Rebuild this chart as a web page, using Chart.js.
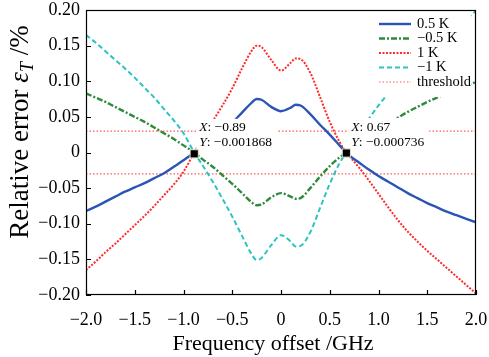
<!DOCTYPE html>
<html>
<head>
<meta charset="utf-8">
<script src="https://cdn.jsdelivr.net/npm/chart.js@4.4.0/dist/chart.umd.min.js"></script>
<style>
  html, body { margin: 0; padding: 0; background: #fff; }
  #wrap { width: 489px; height: 357px; }
</style>
</head>
<body>
<div id="wrap"><canvas id="chart" width="489" height="357"></canvas></div>
<script>
// frequency offset (GHz) and relative error (%) for each temperature error
const freq = [-2.0, -1.9, -1.8, -1.7, -1.6, -1.5, -1.4, -1.3, -1.2, -1.1, -1.0, -0.89,
  -0.8, -0.7, -0.6, -0.5, -0.4, -0.3, -0.25, -0.2, -0.1, 0, 0.1, 0.15, 0.2, 0.3, 0.4, 0.5, 0.6, 0.67,
  0.7, 0.8, 0.9, 1.0, 1.1, 1.2, 1.3, 1.4, 1.5, 1.6, 1.7, 1.8, 1.9, 2.0];
const errP05 = [-0.082, -0.076, -0.069, -0.062, -0.055, -0.049, -0.043, -0.036, -0.029, -0.020, -0.011, 0,
  0.010, 0.020, 0.031, 0.042, 0.056, 0.070, 0.075, 0.074, 0.064, 0.058, 0.063, 0.067, 0.066, 0.054, 0.039, 0.025, 0.010, 0,
  -0.004, -0.014, -0.024, -0.033, -0.041, -0.049, -0.057, -0.064, -0.071, -0.077, -0.083, -0.088, -0.093, -0.098];
const errM05 = [0.083, 0.077, 0.071, 0.064, 0.057, 0.050, 0.043, 0.035, 0.027, 0.019, 0.010, 0,
  -0.010, -0.020, -0.032, -0.044, -0.057, -0.070, -0.074, -0.073, -0.063, -0.057, -0.062, -0.065, -0.064, -0.050, -0.034, -0.019, -0.007, 0,
  0.004, 0.014, 0.024, 0.032, 0.041, 0.049, 0.057, 0.064, 0.071, 0.077, 0.083, 0.089, 0.094, 0.099];
const errP1 = [-0.165, -0.153, -0.140, -0.128, -0.115, -0.102, -0.089, -0.075, -0.060, -0.045, -0.027, 0,
  0.021, 0.044, 0.066, 0.090, 0.118, 0.143, 0.150, 0.148, 0.130, 0.115, 0.126, 0.132, 0.131, 0.112, 0.078, 0.043, 0.015, 0,
  -0.005, -0.021, -0.039, -0.058, -0.077, -0.095, -0.111, -0.125, -0.138, -0.150, -0.162, -0.174, -0.186, -0.198];
const errM1 = [0.165, 0.154, 0.142, 0.130, 0.118, 0.105, 0.091, 0.077, 0.061, 0.045, 0.027, 0,
  -0.019, -0.041, -0.065, -0.090, -0.117, -0.143, -0.151, -0.148, -0.130, -0.116, -0.125, -0.132, -0.131, -0.112, -0.078, -0.044, -0.015, 0,
  0.006, 0.026, 0.047, 0.066, 0.083, 0.099, 0.114, 0.128, 0.141, 0.153, 0.165, 0.176, 0.187, 0.199];
const threshold = 0.03;

// data tips
const tipX = [-0.89, 0.67];
const tipY = [-0.001868, -0.000736];
const tipXText = ['\u22120.89', '0.67'];
const tipYText = ['\u22120.001868', '\u22120.000736'];

const xTickLabels = ['\u22122.0', '\u22121.5', '\u22121.0', '\u22120.5', '0', '0.5', '1.0', '1.5', '2.0'];
const yTickLabels = ['\u22120.20', '\u22120.15', '\u22120.10', '\u22120.05', '0', '0.05', '0.10', '0.15', '0.20'];

const SERIF = '"Liberation Serif", "Times New Roman", serif';

function pts(ys) {
  return freq.map((x, i) => ({ x: x, y: ys[i] }));
}

const framePlugin = {
  id: 'frame',
  beforeDatasetDraw(chart, args) {
    // markers are dataset 0 and drawn last: put tips and legend under them
    if (args.index !== 0) return;
    drawTips(chart);
    drawLegend(chart);
  },
  afterDraw(chart) {
    const ctx = chart.ctx;
    const ca = chart.chartArea;
    const xs = chart.scales.x, ys = chart.scales.y;
    ctx.save();
    ctx.strokeStyle = '#000';
    ctx.lineWidth = 1.2;
    ctx.strokeRect(ca.left + 0.5, ca.top + 0.5, ca.right - ca.left - 1, ca.bottom - ca.top - 1);
    ctx.beginPath();
    xs.ticks.forEach(t => {
      const px = Math.round(xs.getPixelForValue(t.value)) + 0.5;
      ctx.moveTo(px, ca.bottom);
      ctx.lineTo(px, ca.bottom - 5);
    });
    ys.ticks.forEach(t => {
      const py = Math.round(ys.getPixelForValue(t.value)) + 0.5;
      ctx.moveTo(ca.left, py);
      ctx.lineTo(ca.left + 5, py);
    });
    ctx.stroke();

    // axis titles
    ctx.fillStyle = '#000';
    ctx.textBaseline = 'middle';
    ctx.textAlign = 'center';
    ctx.font = '22px ' + SERIF;
    ctx.fillText('Frequency offset /GHz', (ca.left + ca.right) / 2 - 8, 344);

    ctx.translate(21, 132);
    ctx.rotate(-Math.PI / 2);
    ctx.textAlign = 'left';
    const parts = [
      ['Relative error ', '27px ' + SERIF, 0],
      ['\u03b5', 'italic 27px ' + SERIF, 0],
      ['T', 'italic 18px ' + SERIF, 7],
      [' /%', '27px ' + SERIF, 0]
    ];
    let total = 0;
    parts.forEach(p => { ctx.font = p[1]; total += ctx.measureText(p[0]).width; });
    let cx = -total / 2;
    parts.forEach(p => {
      ctx.font = p[1];
      ctx.fillText(p[0], cx, p[2]);
      cx += ctx.measureText(p[0]).width;
    });
    ctx.restore();
  }
};

function drawTips(chart) {
  const ctx = chart.ctx;
  const xs = chart.scales.x, ys = chart.scales.y;
  ctx.save();
  ctx.textBaseline = 'middle';
  ctx.textAlign = 'left';
  tipX.forEach((vx, i) => {
    const px = xs.getPixelForValue(vx);
    const py = ys.getPixelForValue(tipY[i]);
    const left = px + 2;
    const top = py - 35;
    ctx.font = 'italic 13.5px ' + SERIF;
    const wx = ctx.measureText('Y').width;
    ctx.font = '13.5px ' + SERIF;
    const w = wx + ctx.measureText(': ' + tipYText[i]).width + 8;
    ctx.fillStyle = '#fff';
    ctx.fillRect(left, top, w, 32);
    ctx.fillStyle = '#000';
    [['X', tipXText[i], top + 9], ['Y', tipYText[i], top + 24]].forEach(r => {
      ctx.font = 'italic 13.5px ' + SERIF;
      ctx.fillText(r[0], left + 3, r[2]);
      const a = ctx.measureText(r[0]).width;
      ctx.font = '13.5px ' + SERIF;
      ctx.fillText(': ' + r[1], left + 3 + a, r[2]);
    });
  });
  ctx.restore();
}

function drawLegend(chart) {
  const ctx = chart.ctx;
  const ca = chart.chartArea;
  const items = chart.data.datasets.filter(d => d.label && !d.noLegend);
  const left = ca.right - 104, top = ca.top + 4;
  ctx.save();
  ctx.fillStyle = '#fff';
  ctx.fillRect(left, top, 99, 83);
  ctx.font = '14.5px ' + SERIF;
  ctx.textBaseline = 'middle';
  ctx.textAlign = 'left';
  items.forEach((d, i) => {
    const y = top + 10 + i * 14.5;
    ctx.strokeStyle = d.borderColor;
    ctx.lineWidth = d.borderWidth;
    ctx.setLineDash(d.borderDash || []);
    ctx.beginPath();
    ctx.moveTo(left + 7, y);
    ctx.lineTo(left + 39, y);
    ctx.stroke();
    ctx.setLineDash([]);
    ctx.fillStyle = '#000';
    ctx.fillText(d.label, left + 45, y);
  });
  ctx.restore();
}

const lineBase = { pointRadius: 0, fill: false, cubicInterpolationMode: 'monotone' };

new Chart(document.getElementById('chart'), {
  type: 'line',
  data: {
    datasets: [
      {
        label: '', noLegend: true, type: 'scatter',
        data: tipX.map((x, i) => ({ x: x, y: tipY[i] })),
        pointStyle: 'rect', pointRadius: 5.8, backgroundColor: '#000',
        borderColor: '#e9dfc4', borderWidth: 1, showLine: false
      },
      Object.assign({ label: '0.5 K', data: pts(errP05), borderColor: '#2b55b4', borderWidth: 2.4 }, lineBase),
      Object.assign({ label: '\u22120.5 K', data: pts(errM05), borderColor: '#2f8a3c', borderWidth: 2.4, borderDash: [6, 2, 2, 2] }, lineBase),
      Object.assign({ label: '1 K', data: pts(errP1), borderColor: '#ff2b2b', borderWidth: 2, borderDash: [2, 1.5] }, lineBase),
      Object.assign({ label: '\u22121 K', data: pts(errM1), borderColor: '#2cc3c3', borderWidth: 2, borderDash: [5, 3] }, lineBase),
      Object.assign({ label: 'threshold', data: [{ x: -2, y: threshold }, { x: 2, y: threshold }], borderColor: '#ff5a5a', borderWidth: 1.2, borderDash: [1.5, 2] }, lineBase),
      Object.assign({ label: 'threshold', noLegend: true, data: [{ x: -2, y: -threshold }, { x: 2, y: -threshold }], borderColor: '#ff5a5a', borderWidth: 1.2, borderDash: [1.5, 2] }, lineBase)
    ]
  },
  options: {
    responsive: false,
    animation: false,
    layout: { padding: { top: 10, right: 13, left: 0, bottom: 0 } },
    plugins: { legend: { display: false }, tooltip: { enabled: false } },
    scales: {
      x: {
        type: 'linear', min: -2, max: 2,
        grid: { display: false, drawTicks: false },
        border: { display: false },
        ticks: {
          stepSize: 0.5, autoSkip: false, maxRotation: 0, padding: 14, color: '#000',
          font: { family: SERIF, size: 18 },
          callback: (v, i) => xTickLabels[i]
        },
        afterFit: s => { s.height = 62; s.paddingLeft = 0; s.paddingRight = 0; }
      },
      y: {
        type: 'linear', min: -0.2, max: 0.2,
        grid: { display: false, drawTicks: false },
        border: { display: false },
        ticks: {
          stepSize: 0.05, autoSkip: false, padding: 6, color: '#000',
          font: { family: SERIF, size: 18 },
          callback: (v, i) => yTickLabels[i]
        },
        afterFit: s => { s.width = 86; s.paddingTop = 0; s.paddingBottom = 0; }
      }
    }
  },
  plugins: [framePlugin]
});
</script>
</body>
</html>
